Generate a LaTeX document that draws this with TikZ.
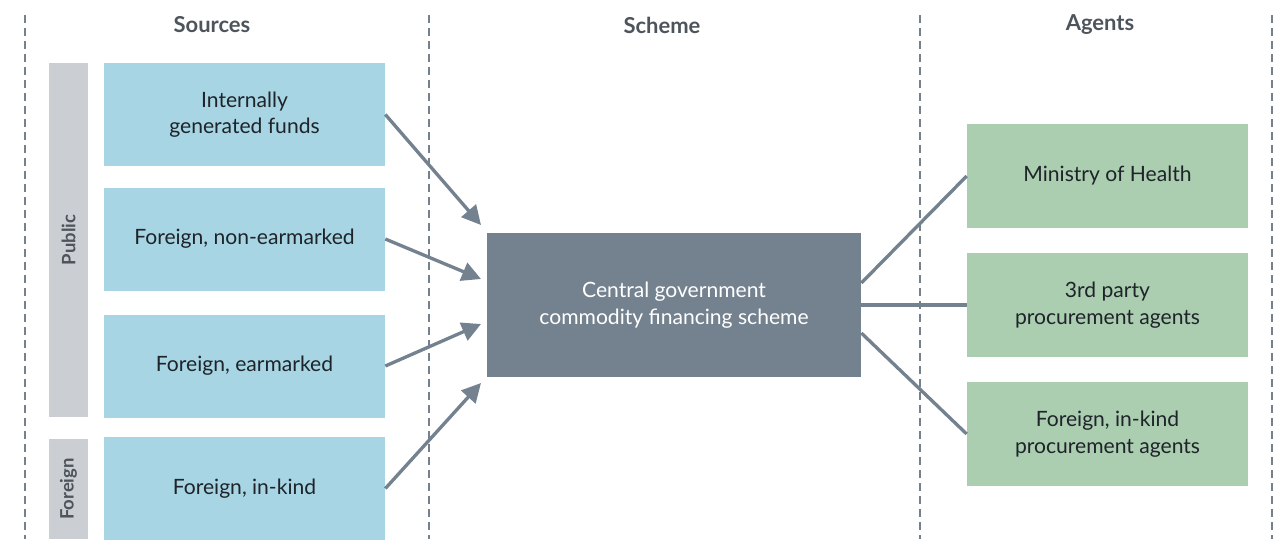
\documentclass[tikz,border=0pt]{standalone}
\usepackage{fontspec}
\setmainfont{Lato}
\usepackage{xcolor}
\usetikzlibrary{arrows.meta}
\definecolor{srcblue}{HTML}{A7D5E4}
\definecolor{bargray}{HTML}{CBCED2}
\definecolor{slate}{HTML}{748290}
\definecolor{agentgreen}{HTML}{ABCDB0}
\definecolor{ink}{HTML}{1E2429}
\definecolor{headgray}{HTML}{4D545C}
\tikzset{
    source/.style={fill=srcblue, minimum width=5.62cm, minimum height=2.06cm, align=center, text=ink, inner sep=0pt, font=\fontsize{12}{15}\selectfont},
    agent/.style={fill=agentgreen, minimum width=5.62cm, minimum height=2.08cm, align=center, text=ink, inner sep=0pt, font=\fontsize{12}{15}\selectfont},
    sidebar/.style={fill=bargray, rotate=90, minimum height=0.78cm, inner sep=0pt, text=headgray, font=\bfseries\fontsize{10.5}{12}\selectfont},
    scheme/.style={fill=slate, minimum width=7.48cm, minimum height=2.88cm, align=center, text=white, inner sep=0pt, font=\fontsize{12}{15}\selectfont},
    header/.style={text=headgray, font=\bfseries\fontsize{12.5}{14}\selectfont},
    column/.style={draw=slate, line width=1.1pt, dash pattern=on 0.16cm off 0.1cm},
    feed/.style={draw=slate, line width=1.9pt, -{Triangle[length=0.38cm, width=0.38cm]}},
    link/.style={draw=slate, line width=1.9pt}
}
\begin{document}
\begin{tikzpicture}[x=0.02cm, y=-0.02cm]
    \useasboundingbox (0,0) rectangle (1277,539);
    \draw[column] (25,15) -- (25,539); % column rules
    \draw[column] (429,15) -- (429,539);
    \draw[column] (920,15) -- (920,539);
    \draw[column] (1272,15) -- (1272,539);
    \node[header] (hsources) at (212,25) {Sources};
    \node[header] (hscheme) at (662,25) {Scheme};
    \node[header] (hagents) at (1100,25) {Agents};
    \node[sidebar, minimum width=7.08cm] (public) at (68.5,240) {Public};
    \node[sidebar, minimum width=2.0cm] (foreign) at (68.5,489) {Foreign};
    \node[source] (internal) at (244.5,114.5) {Internally\\generated funds};
    \node[source] (nonearm) at (244.5,239) {Foreign, non-earmarked};
    \node[source] (earm) at (244.5,366) {Foreign, earmarked};
    \node[source] (inkind) at (244.5,488.5) {Foreign, in-kind};
    \node[scheme] (cgcfs) at (674,305) {Central government\\commodity financing scheme};
    \node[agent] (moh) at (1107.5,176) {Ministry of Health};
    \node[agent] (thirdparty) at (1107.5,305) {3rd party\\procurement agents};
    \node[agent] (foreignpa) at (1107.5,434) {Foreign, in-kind\\procurement agents};
    % arrow ends in front of the scheme box
    \coordinate (in1) at (481,225);
    \coordinate (in2) at (481,279);
    \coordinate (in3) at (481,324);
    \coordinate (in4) at (481,383);
    \draw[feed] (internal.east) -- (in1);
    \draw[feed] (nonearm.east) -- (in2);
    \draw[feed] (earm.east) -- (in3);
    \draw[feed] (inkind.east) -- (in4);
    \draw[link] ([yshift=0.44cm]cgcfs.east) -- (moh.west);
    \draw[link] (cgcfs.east) -- (thirdparty.west);
    \draw[link] ([yshift=-0.56cm]cgcfs.east) -- (foreignpa.west);
\end{tikzpicture}
\end{document}
